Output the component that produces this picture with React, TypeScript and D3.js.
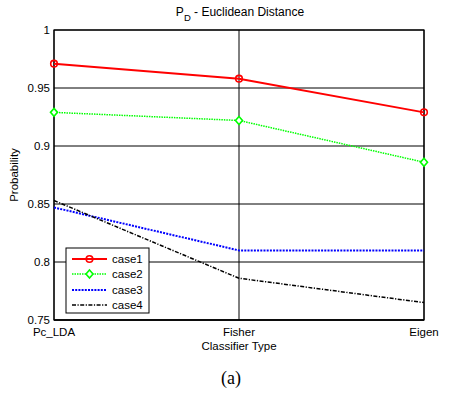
import React from "react";
import * as d3 from "d3";

const categories = ["Pc_LDA", "Fisher", "Eigen"];
const case1 = [0.971, 0.958, 0.929];
const case2 = [0.929, 0.922, 0.886];
const case3 = [0.847, 0.81, 0.81];
const case4 = [0.853, 0.786, 0.765];
const yTicks = [0.75, 0.8, 0.85, 0.9, 0.95, 1];
const yTickLabels = ["0.75", "0.8", "0.85", "0.9", "0.95", "1"];
const seriesNames = ["case1", "case2", "case3", "case4"];

const W = 453, H = 394;
const L = 54, R = 424, T = 30, B = 320;
const FONT = "Liberation Sans, Arial, sans-serif";

export default function App() {
  const x = d3.scalePoint<string>().domain(categories).range([L, R]);
  const y = d3.scaleLinear().domain([0.75, 1]).range([B, T]);
  const line = d3.line<number>().x((_, i) => x(categories[i])!).y(d => y(d));

  const styles = [
    { data: case1, color: "#ff0000", width: 2, dash: "", marker: "circle" },
    { data: case2, color: "#00ff00", width: 1.5, dash: "1.5,1", marker: "diamond" },
    { data: case3, color: "#0000ff", width: 2, dash: "2,1.2", marker: "" },
    { data: case4, color: "#000000", width: 1.5, dash: "4,1.5,1.2,1.5", marker: "" },
  ];

  const marker = (m: string, cx: number, cy: number, color: string, key: any) => {
    if (m === "circle")
      return <circle key={key} cx={cx} cy={cy} r={3.3} fill="none" stroke={color} strokeWidth={1.6} />;
    if (m === "diamond")
      return (
        <path key={key} d={`M${cx},${cy - 4}L${cx + 3.5},${cy}L${cx},${cy + 4}L${cx - 3.5},${cy}Z`}
          fill="#ffffff" stroke={color} strokeWidth={1.6} />
      );
    return null;
  };

  const legX = 66, legY = 248, legW = 83, legH = 65;
  const legRows = [259, 274, 290, 305];

  return (
    <svg width={W} height={H} style={{ display: "block", position: "absolute", left: 0, top: 0 }}>
      <rect width={W} height={H} fill="#ffffff" />
      {/* grid */}
      {yTicks.map(t => (
        <line key={"gy" + t} x1={L} x2={R} y1={y(t)} y2={y(t)} stroke="#000" strokeWidth={1} />
      ))}
      {categories.map(c => (
        <line key={"gx" + c} x1={x(c)} x2={x(c)} y1={T} y2={B} stroke="#000" strokeWidth={1} />
      ))}
      <rect x={L} y={T} width={R - L} height={B - T} fill="none" stroke="#000" strokeWidth={1.2} />
      <line x1={L} x2={R} y1={B} y2={B} stroke="#000" strokeWidth={1.6} />
      {/* y tick labels */}
      {yTicks.map((t, i) => (
        <text key={"yl" + t} x={L - 4} y={y(t) + 4} textAnchor="end" fontFamily={FONT} fontSize={11.5} fill="#000">
          {yTickLabels[i]}
        </text>
      ))}
      {categories.map(c => (
        <text key={"xl" + c} x={x(c)} y={336} textAnchor="middle" fontFamily={FONT} fontSize={11.5} fill="#000">
          {c}
        </text>
      ))}
      {/* series */}
      {styles.map((s, si) => (
        <g key={"s" + si}>
          <path d={line(s.data)!} fill="none" stroke={s.color} strokeWidth={s.width} strokeDasharray={s.dash} />
          {s.data.map((v, i) => marker(s.marker, x(categories[i])!, y(v), s.color, i))}
        </g>
      ))}
      {/* legend */}
      <rect x={legX} y={legY} width={legW} height={legH} fill="#ffffff" stroke="#000" strokeWidth={1} />
      {styles.map((s, si) => (
        <g key={"lg" + si}>
          <line x1={72} x2={107} y1={legRows[si]} y2={legRows[si]} stroke={s.color} strokeWidth={s.width} strokeDasharray={s.dash} />
          {marker(s.marker, 89.5, legRows[si], s.color, "m")}
          <text x={112} y={legRows[si] + 4} fontFamily={FONT} fontSize={11.5} fill="#000">{seriesNames[si]}</text>
        </g>
      ))}
      {/* titles */}
      <text x={240} y={16} textAnchor="middle" fontFamily={FONT} fontSize={12} fill="#000">
        <tspan>P</tspan>
        <tspan fontSize={9.5} dy={5}>D</tspan>
        <tspan dy={-5}> - Euclidean Distance</tspan>
      </text>
      <text x={239} y={350} textAnchor="middle" fontFamily={FONT} fontSize={11.5} fill="#000">Classifier Type</text>
      <text transform={`translate(18,${(T + B) / 2}) rotate(-90)`} textAnchor="middle" fontFamily={FONT} fontSize={11.5} fill="#000">
        Probability
      </text>
      <text x={231} y={384} textAnchor="middle" fontFamily="Liberation Serif, Times New Roman, serif" fontSize={18} fill="#000">(a)</text>
    </svg>
  );
}
